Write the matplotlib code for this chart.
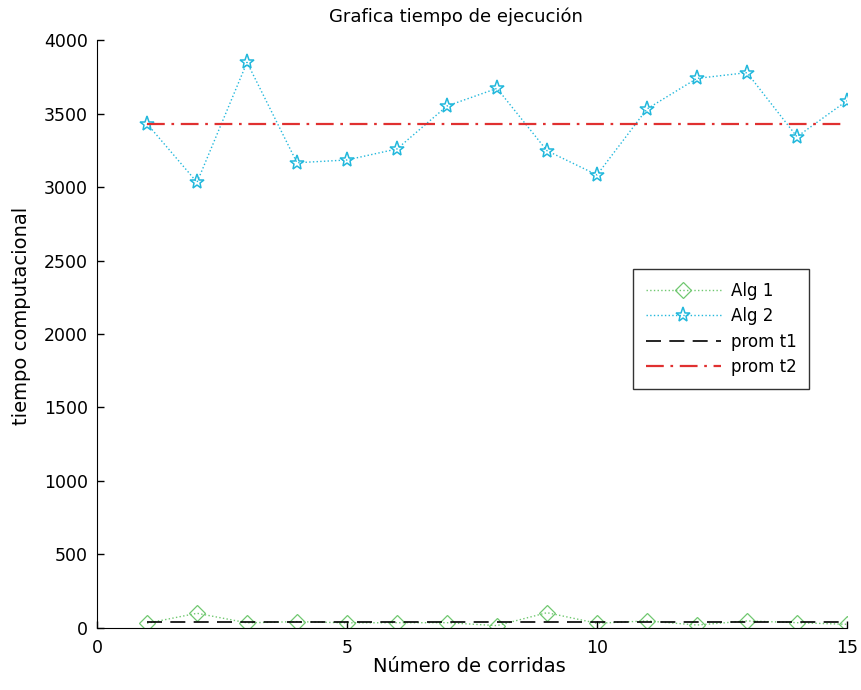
import matplotlib
matplotlib.use("Agg")
import matplotlib.pyplot as plt

corridas = list(range(1, 16))
alg1 = [32, 100, 35, 43, 35, 36, 36, 16, 104, 32, 48, 20, 48, 36, 25]
alg2 = [3430, 3032, 3848, 3165, 3184, 3259, 3551, 3671, 3247, 3082, 3531, 3739, 3778, 3342, 3587]
prom_t1 = 40
prom_t2 = 3430
xticks = [0, 5, 10, 15]
yticks = [0, 500, 1000, 1500, 2000, 2500, 3000, 3500, 4000]

plt.rcParams['font.family'] = ['DejaVu Sans']

fig = plt.figure(figsize=(8.61, 6.90), dpi=100)
ax = fig.add_axes([0.1127, 0.0899, 0.8710, 0.8521])

ax.plot(corridas, alg1, linestyle=':', color='#70c870', marker='D', markersize=8,
        markerfacecolor='none', markeredgecolor='#70c870', markeredgewidth=0.9,
        linewidth=1, label='Alg 1')
ax.plot(corridas, alg2, linestyle=':', color='#22b8dc', marker='*', markersize=11,
        markerfacecolor='none', markeredgecolor='#22b8dc', markeredgewidth=1.1,
        linewidth=1, label='Alg 2')
ax.plot(corridas, [prom_t1] * len(corridas), linestyle=(0, (9, 5)), color='black',
        linewidth=1.2, label='prom t1')
ax.plot(corridas, [prom_t2] * len(corridas), linestyle=(0, (8, 3, 1.2, 3)), color='#e03030',
        linewidth=1.6, label='prom t2')

ax.set_xlim(0, 15)
ax.set_ylim(0, 4000)
ax.set_xticks(xticks)
ax.set_yticks(yticks)
ax.tick_params(direction='in', length=5, labelsize=12.5, width=1)
ax.tick_params(axis='x', pad=8)
ax.tick_params(axis='y', pad=6.5)
ax.spines['top'].set_visible(False)
ax.spines['right'].set_visible(False)

ax.set_title('Grafica tiempo de ejecución', fontsize=13, x=0.479, pad=13)
ax.set_xlabel('Número de corridas', fontsize=14)
ax.set_ylabel('tiempo computacional', fontsize=14)
ax.xaxis.set_label_coords(0.496, -0.05)
ax.yaxis.set_label_coords(-0.088, 0.53)

leg = ax.legend(loc='upper left', bbox_to_anchor=(0.7147, 0.6105), fontsize=12,
                frameon=True, fancybox=False, edgecolor='black', handlelength=4.5,
                borderpad=0.75, labelspacing=0.45, handletextpad=0.6, borderaxespad=0)
leg.get_frame().set_linewidth(1)

fig.savefig('out.png', dpi=100)
